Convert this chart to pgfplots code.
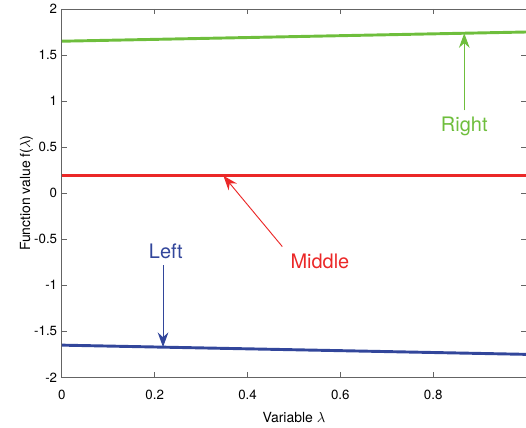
\documentclass[border=0pt]{standalone}
\usepackage{fontspec}
\setmainfont{TeX Gyre Heros}
\usepackage{pgfplots}
\pgfplotsset{compat=1.18}
\usetikzlibrary{arrows.meta}

\definecolor{cgreen}{RGB}{110,190,60}
\definecolor{cred}{RGB}{235,40,40}
\definecolor{cblue}{RGB}{50,70,155}
\definecolor{caxis}{RGB}{100,100,100}

\begin{document}
\begin{tikzpicture}
\begin{axis}[
    at={(0,0)}, anchor=south west,
    scale only axis,
    width=349pt, height=277pt,
    xmin=0, xmax=1, ymin=-2, ymax=2,
    xtick={0,0.2,0.4,0.6,0.8},
    ytick={-2,-1.5,...,2},
    axis line style={caxis, line width=0.6pt},
    tick style={caxis, line width=0.6pt},
    tick align=inside,
    major tick length=4pt,
    xticklabel style={font=\fontsize{10}{12}\selectfont, yshift=-6pt},
    yticklabel style={font=\fontsize{10}{12}\selectfont},
    /pgf/number format/assume math mode=true,
    xlabel={Variable $\lambda$},
    ylabel={Function value f($\lambda$)},
    label style={font=\fontsize{10.5}{12}\selectfont},
    xlabel style={yshift=-3pt},
    ylabel style={yshift=-6pt},
    clip=false,
]
\addplot[cgreen, line width=2.2pt] coordinates {(0,1.65)(1,1.75)};
\addplot[cred, line width=2.2pt] coordinates {(0,0.19)(1,0.19)};
\addplot[cblue, line width=2.2pt] coordinates {(0,-1.65)(1,-1.75)};

\draw[cgreen, line width=0.7pt, -{Stealth[length=11pt,width=8pt]}] (axis cs:0.867,0.9) -- (axis cs:0.867,1.737);
\node[cgreen, font=\fontsize{15}{18}\selectfont] at (axis cs:0.867,0.72) {Right};

\draw[cred, line width=0.7pt, -{Stealth[length=11pt,width=8pt]}] (axis cs:0.475,-0.58) -- (axis cs:0.348,0.19);
\node[cred, font=\fontsize{15}{18}\selectfont] at (axis cs:0.556,-0.74) {Middle};

\draw[cblue, line width=0.7pt, -{Stealth[length=11pt,width=8pt]}] (axis cs:0.218,-0.78) -- (axis cs:0.218,-1.671);
\node[cblue, font=\fontsize{15}{18}\selectfont] at (axis cs:0.224,-0.635) {Left};
\end{axis}
\pgfresetboundingbox
\path (-46.5pt,-37.5pt) rectangle (349pt,283.75pt);
\end{tikzpicture}
\end{document}
